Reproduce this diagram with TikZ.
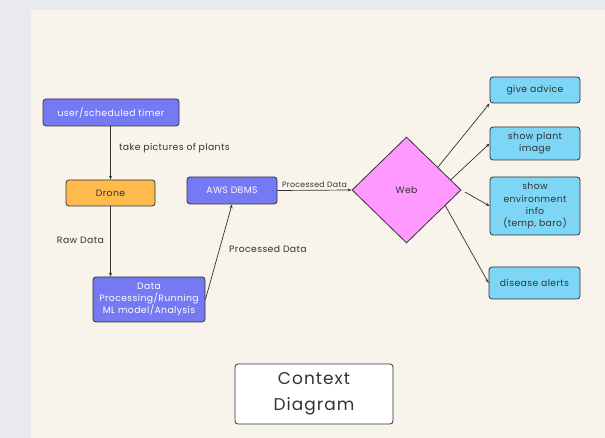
\documentclass[tikz,border=0pt]{standalone}
\usepackage{fontspec}
\setmainfont{Poppins}[LetterSpace=4]
\newfontfamily\titlefont[LetterSpace=6]{Poppins}
\usetikzlibrary{shapes.geometric,arrows.meta}

\definecolor{pagegrey}{HTML}{E9EAEE}
\definecolor{cream}{HTML}{F8F4EC}
\definecolor{boxline}{HTML}{333333}
\definecolor{procblue}{HTML}{7679F4}
\definecolor{droneorange}{HTML}{FFBA4D}
\definecolor{webpink}{HTML}{FF99FF}
\definecolor{outcyan}{HTML}{7DD6F6}

\tikzset{
  box/.style={draw=boxline, line width=0.8pt, rounded corners=3pt, align=center,
              inner sep=1pt, font=\fontsize{9.3}{12.4}\selectfont, text=boxline},
  procbox/.style={box, fill=procblue, text=white},
  dronebox/.style={box, fill=droneorange},
  outbox/.style={box, fill=outcyan},
  lbl/.style={inner sep=0pt, font=\fontsize{9.3}{11}\selectfont, text=boxline},
  flow/.style={draw=boxline, line width=0.7pt, -{Stealth[length=4pt,width=3pt]}}
}

\begin{document}
\begin{tikzpicture}[x=1pt,y=-1pt]
            		\fill[pagegrey] (0,0) rectangle (605,438);
            		\fill[cream] (31,10) rectangle (605,438);

            		\node (timer) at (111,112.5) [procbox,minimum width=136pt,minimum height=27pt] {user/scheduled timer};
            		\node (drone) at (110.5,193) [dronebox,minimum width=89pt,minimum height=26pt] {Drone};
            		\node (data) at (149,299.5) [procbox,minimum width=112pt,minimum height=45pt] {Data\\Processing/Running\\ML model/Analysis};
            		\node (aws) at (232,190.5) [procbox,minimum width=90pt,minimum height=27pt] {AWS DBMS};
            		\node (web) at (406.5,190) [draw=boxline,line width=0.8pt,fill=webpink,diamond,inner sep=0pt,minimum width=109pt,minimum height=106pt,font=\fontsize{9.3}{11}\selectfont,text=boxline] {Web};

            		\node (advice) at (535,90) [outbox,minimum width=90pt,minimum height=26pt] {give advice};
            		\node (plant) at (535,143.5) [outbox,minimum width=90pt,minimum height=33pt] {show plant\\image};
            		\node (env) at (535,206) [outbox,minimum width=90pt,minimum height=58pt] {show\\environment\\info\\(temp, baro)};
            		\node (alerts) at (534.5,283) [outbox,minimum width=91pt,minimum height=32pt] {disease alerts};

            		\node (title) at (314,394) [box,fill=white,minimum width=158pt,minimum height=60pt,font=\titlefont\fontsize{17}{26}\selectfont] {Context\\Diagram};

            		\node (takelbl) at (119,148) [lbl,anchor=west] {take pictures of plants};
            		\node (rawlbl) at (104,240) [lbl,anchor=east] {Raw Data};
            		\node (proclbl) at (229,249) [lbl,anchor=west] {Processed Data};

            		\draw[flow] (timer.south -| drone.center) -- (drone.north);
            		\draw[flow] (drone.south) -- (drone.south |- data.north);
            		\draw[flow] (data.east) -- (aws.south);
            		\draw[flow] (aws.east) -- node (sendlbl) [lbl,above=2pt,font=\fontsize{7.8}{9}\selectfont] {Processed Data} (web.west);

            		\draw[flow] (web.36) -- (advice.south west);
            		\draw[flow] (web.13) -- (plant.west);
            		\draw[flow,shorten <=4pt] (web.east) -- (env.west);
            		\draw[flow] (web.-22) -- (alerts.west);

        		\end{tikzpicture}
\end{document}
